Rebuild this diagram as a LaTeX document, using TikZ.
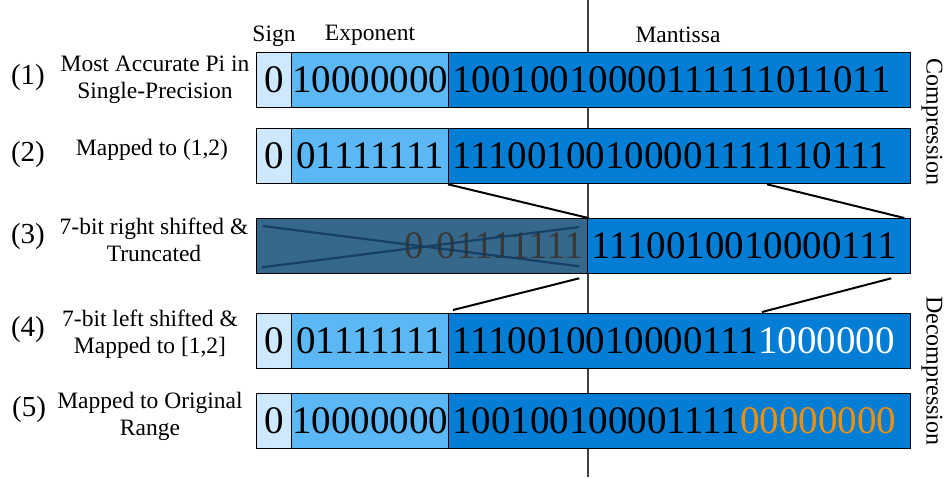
\documentclass[tikz,border=0pt]{standalone}
\usepackage{fontspec}
\setmainfont{Liberation Serif}
\usetikzlibrary{calc}
\definecolor{signblue}{RGB}{206,233,253}
\definecolor{expblue}{RGB}{92,183,245}
\definecolor{mantblue}{RGB}{4,126,212}
\definecolor{lostblue}{RGB}{54,104,140}
\definecolor{crossblue}{RGB}{18,58,92}
\definecolor{padorange}{RGB}{240,144,12}
\newcommand{\bitsfont}{\fontsize{39}{41}\selectfont}
\newcommand{\labfont}{\fontsize{23.5}{27}\selectfont}
\begin{document}
\begin{tikzpicture}[x=1pt, y=-1pt,
    field/.style={draw, line width=1.3pt, minimum height=55pt, inner sep=0pt,
      anchor=north west, font=\bitsfont},
    signbox/.style={field, fill=signblue, minimum width=35pt},
    expbox/.style={field, fill=expblue, minimum width=157pt},
    mantbox/.style={field, fill=mantblue, text width=455pt, inner xsep=3.5pt, align=left},
    rowno/.style={font=\fontsize{29}{31}\selectfont},
    rowtext/.style={font=\labfont, align=center},
    link/.style={line width=2pt}]
  \useasboundingbox (0,0) rectangle (945,477);
  \coordinate (axtop) at (588,0);
  \coordinate (axbot) at (588,477);
  \draw [line width=1.1pt, black!75] (axtop) -- (axbot);

  \node (hsign) at (274,36) [font=\labfont] {Sign};
  \node (hexp) at (370,35) [font=\labfont] {Exponent};
  \node (hmant) at (678,35) [font=\labfont] {Mantissa};

  \node (s1) at (256,52) [signbox] {0};
  \node (e1) at (291,52) [expbox] {10000000};
  \node (m1) at (448,52) [mantbox] {10010010000111111011011};

  \node (s2) at (256,128) [signbox] {0};
  \node (e2) at (291,128) [expbox] {01111111};
  \node (m2) at (448,128) [mantbox] {11100100100001111110111};

  \node (l3) at (256,218) [field, fill=lostblue, text=black!78, text width=324pt,
    inner xsep=3.5pt, align=right] {0 01111111};
  \node (m3) at (587,218) [mantbox, text width=316pt] {1110010010000111};
  \draw [crossblue, line width=2.2pt, opacity=.85]
    ($(l3.north west)+(7,8)$) -- ($(l3.south east)+(-9,-8)$)
    ($(l3.south west)+(6,-7)$) -- ($(l3.north east)+(-9,9)$);

  \node (s4) at (256,313) [signbox] {0};
  \node (e4) at (291,313) [expbox] {01111111};
  \node (m4) at (448,313) [mantbox] {1110010010000111\textcolor{white}{1000000}};

  \node (s5) at (256,393) [signbox] {0};
  \node (e5) at (291,393) [expbox] {10000000};
  \node (m5) at (448,393) [mantbox] {100100100001111\textcolor{padorange}{00000000}};

  \draw [link]
    (m2.south west) -- (l3.north east)
    ($(m2.south west)+(319,0)$) -- ($(m3.north east)+(-7,0)$)
    ($(l3.south east)+(-9,4)$) -- ($(m4.north west)+(5,-3)$)
    ($(m3.south east)+(-20,4)$) -- ($(m4.north west)+(314,-1)$);

  \node (n1) at (28,78) [rowno] {(1)};
  \node (n2) at (28,155) [rowno] {(2)};
  \node (n3) at (28,237) [rowno] {(3)};
  \node (n4) at (28,330) [rowno] {(4)};
  \node (n5) at (29,410) [rowno] {(5)};

  \node (t1) at (155,80) [rowtext] {Most Accurate Pi in\\Single-Precision};
  \node (t2) at (152,150) [rowtext] {Mapped to (1,2)};
  \node (t3) at (154,240) [rowtext] {7-bit right shifted \&\\Truncated};
  \node (t4) at (150,334) [rowtext] {7-bit left shifted \&\\Mapped to [1,2]};
  \node (t5) at (150,416) [rowtext] {Mapped to Original\\Range};

  \node (comp) at (932,122) [rotate=-90, font=\fontsize{24}{26}\selectfont] {Compression};
  \node (decomp) at (932,371) [rotate=-90, font=\fontsize{24}{26}\selectfont] {Decompression};
\end{tikzpicture}
\end{document}
